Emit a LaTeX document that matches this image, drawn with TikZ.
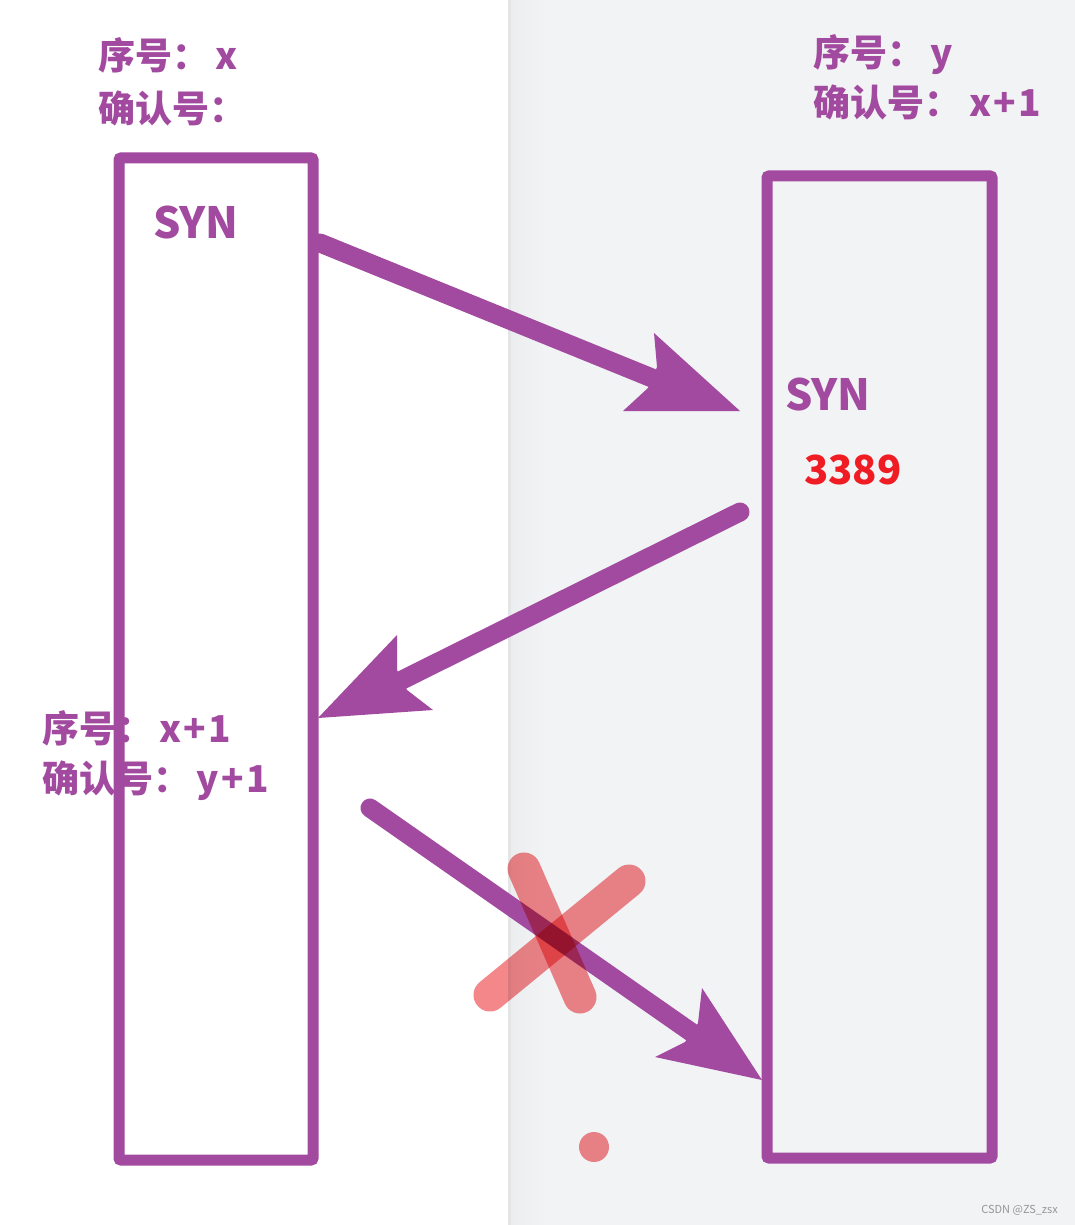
\documentclass[tikz,border=0pt]{standalone}
\usepackage{fontspec}
\setmainfont{Noto Sans CJK SC}
\usetikzlibrary{calc}
\definecolor{pur}{RGB}{162,74,159}
\definecolor{bggray}{RGB}{242,243,245}
\definecolor{bgedge}{RGB}{228,229,231}
\definecolor{bgshade}{RGB}{236,237,239}
\definecolor{xred}{RGB}{244,135,138}
\definecolor{numred}{RGB}{240,28,36}
\definecolor{wm}{RGB}{150,150,150}
\newcommand{\pl}{\hspace{2.5pt}+\hspace{2.5pt}}
\tikzset{
  box/.style={draw=pur, line width=11pt, rounded corners=2pt, minimum width=#1},
  lbl/.style={anchor=base west, inner sep=0pt, text=pur, font=\bfseries\fontsize{37}{37}\selectfont},
  synlbl/.style={anchor=base west, inner sep=0pt, text=pur, font=\bfseries\fontsize{43}{43}\selectfont},
  shaft/.style={draw=pur, line width=19pt, line cap=round},
  head/.style={fill=pur},
  cross/.style={draw=xred, line width=33pt, line cap=round},
}
\begin{document}
\begin{tikzpicture}[x=1pt, y=-1pt]
\useasboundingbox (0,0) rectangle (1075,1225);
% background
\fill[white] (0,0) rectangle (1075,1225);
\fill[bggray] (509,0) rectangle (1075,1225);
\shade[left color=bgshade, right color=bggray, shading angle=90] (510,0) rectangle (545,1225);
\fill[bgedge] (507.5,0) rectangle (510.5,1225);

% boxes
\node[box=194pt, minimum height=1002pt] (L) at (216,659) {};
\node[box=225pt, minimum height=982pt] (R) at (879.5,667) {};

% texts
\node[lbl] (l1) at (98,70) {序号：\,x};
\node[lbl] (l2) at (98,123) {确认号：};
\node[lbl] (r1) at (813,67) {序号：\,y};
\node[lbl] (r2) at (813,117) {确认号：\hspace{8pt}x\pl 1};
\node[lbl] (m1) at (42,742) {序号：\,x\pl 1};
\node[lbl] (m2) at (42,792) {确认号：\hspace{6pt}y\pl 1};
\node[synlbl] (s1) at (153,238) {SYN};
\node[synlbl] (s2) at (785,410) {SYN};
\node[anchor=base west, inner sep=0pt, text=numred, font=\bfseries\fontsize{40}{40}\selectfont] (num) at (804,484) {3389};

% arrow 1
\coordinate (a1s) at (320,243);
\coordinate (a1e) at (652,378);
\draw[shaft] (a1s) -- (a1e);
\fill[head] (740,411) -- (623,411) -- (648,388) -- (657,367) -- (654,333) -- cycle;
% arrow 2
\coordinate (a2s) at (740,512);
\coordinate (a2e) at (402,680);
\draw[shaft] (a2s) -- (a2e);
\fill[head] (318,718) -- (397,635) -- (397,670) -- (407,690) -- (433,710) -- cycle;
% arrow 3
\coordinate (a3s) at (370,808);
\coordinate (a3e) at (691,1032);
\draw[shaft] (a3s) -- (a3e);
\fill[head] (762,1080) -- (655,1057) -- (685,1042) -- (698,1023) -- (702,988) -- cycle;

% cross and dot
\begin{scope}[blend mode=multiply]
\coordinate (c1a) at (524,869);
\coordinate (c1b) at (580,997);
\coordinate (c2a) at (629,881);
\coordinate (c2b) at (490,995);
\draw[cross] (c1a) -- (c1b);
\draw[cross] (c2a) -- (c2b);
\fill[xred] (594,1147) circle (15);
\end{scope}

% watermark
\node[anchor=base east, inner sep=0pt, text=wm, font=\fontsize{11}{11}\selectfont] (wmk) at (1058,1213) {CSDN @ZS\_zsx};
\end{tikzpicture}
\end{document}
